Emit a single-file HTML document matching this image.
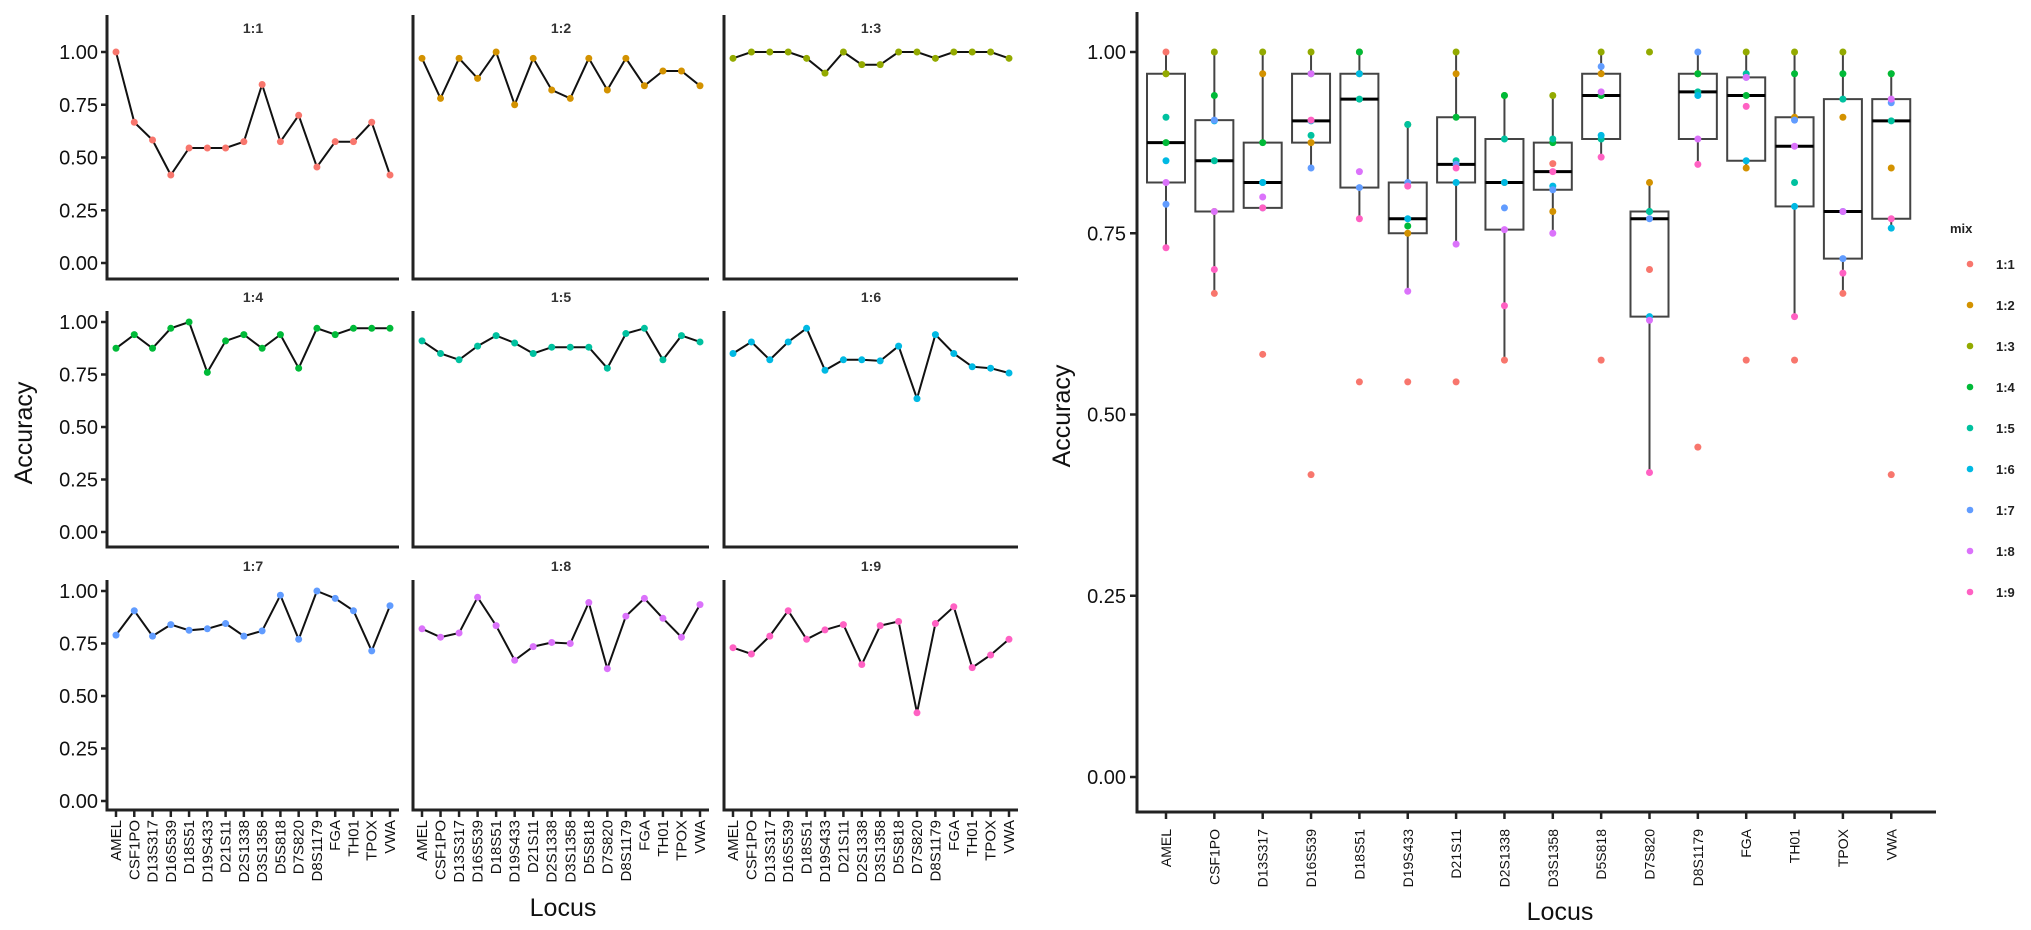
<!DOCTYPE html>
<html><head><meta charset="utf-8"><style>
html,body{margin:0;padding:0;background:#fff;}
svg{display:block;font-family:"Liberation Sans",sans-serif;}
</style></head><body>
<svg id="chart" width="2031" height="930" viewBox="0 0 2031 930" xmlns="http://www.w3.org/2000/svg"></svg>
<script>
const loci = ["AMEL","CSF1PO","D13S317","D16S539","D18S51","D19S433","D21S11","D2S1338","D3S1358","D5S818","D7S820","D8S1179","FGA","TH01","TPOX","VWA"];
const mixes = ["1:1","1:2","1:3","1:4","1:5","1:6","1:7","1:8","1:9"];
const mixColors = ["#F8766D","#D39200","#93AA00","#00BA38","#00C19F","#00B9E3","#619CFF","#DB72FB","#FF61C3"];
const yTicks = [0, 0.25, 0.5, 0.75, 1.0];
const yTickLabels = ["0.00","0.25","0.50","0.75","1.00"];
const acc11 = [1.00,0.667,0.583,0.417,0.545,0.545,0.545,0.575,0.846,0.575,0.70,0.455,0.575,0.575,0.667,0.417];
const acc12 = [0.97,0.78,0.97,0.875,1.00,0.75,0.97,0.82,0.78,0.97,0.82,0.97,0.84,0.91,0.91,0.84];
const acc13 = [0.97,1.00,1.00,1.00,0.97,0.90,1.00,0.94,0.94,1.00,1.00,0.97,1.00,1.00,1.00,0.97];
const acc14 = [0.875,0.94,0.875,0.97,1.00,0.76,0.91,0.94,0.875,0.94,0.78,0.97,0.94,0.97,0.97,0.97];
const acc15 = [0.91,0.85,0.82,0.885,0.935,0.90,0.85,0.88,0.88,0.88,0.78,0.945,0.97,0.82,0.935,0.905];
const acc16 = [0.85,0.905,0.82,0.905,0.97,0.77,0.82,0.82,0.815,0.885,0.635,0.94,0.85,0.787,0.78,0.757];
const acc17 = [0.79,0.906,0.785,0.84,0.813,0.82,0.845,0.785,0.81,0.98,0.77,1.00,0.965,0.906,0.715,0.93];
const acc18 = [0.82,0.78,0.80,0.97,0.835,0.67,0.735,0.755,0.75,0.945,0.63,0.88,0.965,0.87,0.78,0.935];
const acc19 = [0.73,0.70,0.785,0.906,0.77,0.815,0.84,0.65,0.835,0.855,0.42,0.845,0.925,0.635,0.695,0.77];
const series = [acc11,acc12,acc13,acc14,acc15,acc16,acc17,acc18,acc19];

const svg = document.getElementById('chart');
const NS = "http://www.w3.org/2000/svg";
function mk(tag, attrs, parent){ const e=document.createElementNS(NS,tag); for(const k in attrs) e.setAttribute(k,attrs[k]); (parent||svg).appendChild(e); return e; }

// ---------- facet panels ----------
const panelLeft = [107, 413, 724];
const panelRight = [399, 709, 1018];
const rowY0 = [263, 532, 801];
const rowY1 = [52, 322, 591];
const rowAxis = [279, 547, 810];
const rowTop = [15, 311, 580];
const rowTitle = [33, 302, 571];
for(let m=0;m<9;m++){
  const r=Math.floor(m/3), c=m%3;
  const L=panelLeft[c], R=panelRight[c];
  const g=mk('g',{});
  
  
  const yS=v=>rowY0[r]-(rowY0[r]-rowY1[r])*v;
  const xS=i=>L+9+i*((R-L-18)/15);
  const t=mk('text',{x:(L+R)/2,y:rowTitle[r],'text-anchor':'middle','font-size':'14','font-weight':'bold',fill:'#333'},g);
  t.textContent=mixes[m];
  
  
  const ya=mk('line',{x1:L,y1:rowTop[r],x2:L,y2:rowAxis[r]+1.5,stroke:'#222','stroke-width':3},g);
   
  const xa=mk('line',{x1:L,y1:rowAxis[r],x2:R,y2:rowAxis[r],stroke:'#222','stroke-width':3},g);
   
  if(c===0){
    yTicks.forEach((v,k)=>{
      mk('line',{x1:L-6,y1:yS(v),x2:L,y2:yS(v),stroke:'#222','stroke-width':2.5},g);
      const tl=mk('text',{x:L-9,y:yS(v)+7,'text-anchor':'end','font-size':'20',fill:'#111'},g);
      tl.textContent=yTickLabels[k];
       
    });
  }
  if(r===2){
    loci.forEach((n,i)=>{
      mk('line',{x1:xS(i),y1:rowAxis[r],x2:xS(i),y2:rowAxis[r]+7,stroke:'#222','stroke-width':2.5},g);
      const tl=mk('text',{transform:`translate(${xS(i)+5},${rowAxis[r]+10}) rotate(-90)`,'text-anchor':'end','font-size':'15',fill:'#111'},g);
      tl.textContent=n;
       
    });
  }
  const d=series[m].map((v,i)=>(i?'L':'M')+xS(i).toFixed(1)+' '+yS(v).toFixed(1)).join(' ');
  const ln=mk('path',{d:d,fill:'none',stroke:'#111','stroke-width':2},g);
   
  series[m].forEach((v,i)=>{
    const p=mk('circle',{cx:xS(i),cy:yS(v),r:3.5,fill:mixColors[m]},g);
     
  });
}
const lt=mk('text',{x:563,y:916,'text-anchor':'middle','font-size':'25',fill:'#111'}); lt.textContent='Locus';
 
const la=mk('text',{transform:'translate(32,433) rotate(-90)','text-anchor':'middle','font-size':'25',fill:'#111'}); la.textContent='Accuracy';
 

// ---------- boxplot ----------
const BX0=1137, BXR=1936, BY0=777, BY1=52, BAX=812;
const bx=i=>1166+i*48.35;
const by=v=>BY0-(BY0-BY1)*v;
const bg=mk('g',{});
 
const bya=mk('line',{x1:BX0,y1:12,x2:BX0,y2:BAX+1.5,stroke:'#222','stroke-width':3},bg);
 
const bxa=mk('line',{x1:BX0,y1:BAX,x2:BXR,y2:BAX,stroke:'#222','stroke-width':3},bg);
 
yTicks.forEach((v,k)=>{
  mk('line',{x1:BX0-7,y1:by(v),x2:BX0,y2:by(v),stroke:'#222','stroke-width':2.5},bg);
  const tl=mk('text',{x:BX0-11,y:by(v)+7,'text-anchor':'end','font-size':'20',fill:'#111'},bg);
  tl.textContent=yTickLabels[k];
   
});
function q(a,p){const s=[...a].sort((x,y)=>x-y);const h=(s.length-1)*p;const lo=Math.floor(h);return s[lo]+(h-lo)*((s[lo+1]??s[lo])-s[lo]);}
loci.forEach((n,i)=>{
  const x=bx(i);
  mk('line',{x1:x,y1:BAX,x2:x,y2:BAX+7,stroke:'#222','stroke-width':2.5},bg);
  const tl=mk('text',{transform:`translate(${x+5},${BAX+17}) rotate(-90)`,'text-anchor':'end','font-size':'14','font-family':'"Liberation Sans Narrow","Liberation Sans",sans-serif',fill:'#111'},bg);
  tl.textContent=n;
   
  const vals=series.map(s=>s[i]);
  const q1=q(vals,0.25),q2=q(vals,0.5),q3=q(vals,0.75),iqr=q3-q1;
  const lo=Math.min(...vals.filter(v=>v>=q1-1.5*iqr)), hi=Math.max(...vals.filter(v=>v<=q3+1.5*iqr));
  const w=mk('line',{x1:x,y1:by(hi),x2:x,y2:by(q3),stroke:'#444','stroke-width':2},bg);
   
  const w2=mk('line',{x1:x,y1:by(q1),x2:x,y2:by(lo),stroke:'#444','stroke-width':2},bg);
   
  const b=mk('rect',{x:x-19,y:by(q3),width:38,height:Math.max(by(q1)-by(q3),0.5),fill:'none',stroke:'#444','stroke-width':2},bg);
   
  const md=mk('line',{x1:x-19,y1:by(q2),x2:x+19,y2:by(q2),stroke:'#000','stroke-width':3},bg);
   
  vals.forEach((v,m)=>{
    const p=mk('circle',{cx:x,cy:by(v),r:3.5,fill:mixColors[m]},bg);
     
  });
});
const blt=mk('text',{x:1560,y:920,'text-anchor':'middle','font-size':'25',fill:'#111'}); blt.textContent='Locus';
 
const bla=mk('text',{transform:'translate(1070,416) rotate(-90)','text-anchor':'middle','font-size':'25',fill:'#111'}); bla.textContent='Accuracy';
 

// legend
const lg=mk('g',{});
 
const lgt=mk('text',{x:1950,y:233,'font-size':'13','font-weight':'bold',fill:'#222'},lg); lgt.textContent='mix';
 
mixes.forEach((mx,m)=>{
  const y=264+m*41;
  const e=mk('g',{},lg);
   
  mk('circle',{cx:1970,cy:y,r:3.3,fill:mixColors[m]},e);
  const t=mk('text',{x:1996,y:y+5,'font-size':'13','font-weight':'bold',fill:'#222'},e); t.textContent=mx;
});
</script>
</body></html>
